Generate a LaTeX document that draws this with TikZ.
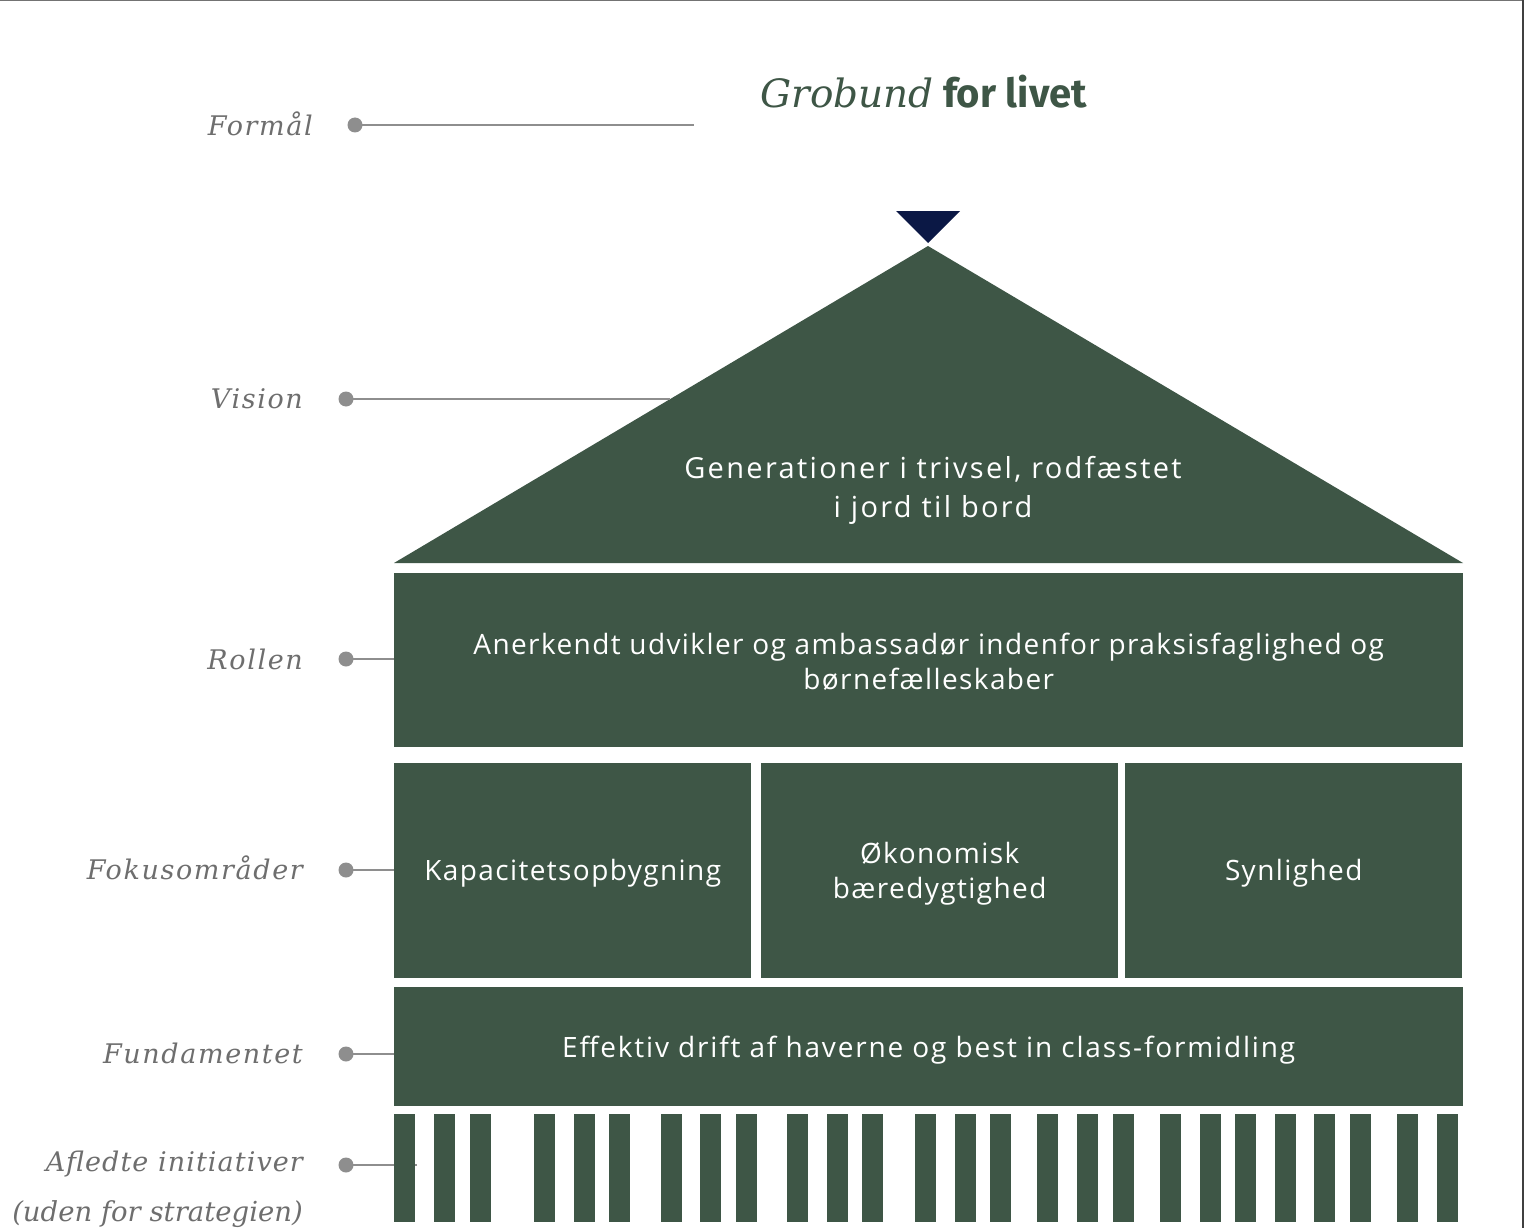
\documentclass[tikz,border=0pt]{standalone}
\usepackage{fontspec}
\setmainfont{Open Sans}[LetterSpace=5]
\newfontfamily\rooffont{Open Sans}[LetterSpace=8]
\newfontfamily\fundfont{Open Sans}[LetterSpace=6.5]
\newfontfamily\labelfont{DejaVu Serif}[LetterSpace=6]
\newfontfamily\aflfont{DejaVu Serif}[LetterSpace=4]
\newfontfamily\plainlabelfont{DejaVu Serif}
\newfontfamily\titleserif{DejaVu Serif}
\newfontfamily\titlesans{Fira Sans}
\definecolor{hgreen}{HTML}{3E5646}
\definecolor{hnavy}{HTML}{0B1845}
\definecolor{lblgray}{HTML}{6E6E6E}
\definecolor{linegray}{HTML}{8E8E8E}
\begin{document}
\begin{tikzpicture}[x=1pt,y=-1pt,
  box/.style={fill=hgreen, draw=none, inner sep=0pt, anchor=north west},
  boxtext/.style={text=white, inner sep=0pt, align=center, font=\fontsize{28}{35}\selectfont},
  lbl/.style={anchor=east, text=lblgray, inner sep=0pt, font=\labelfont\itshape\fontsize{27}{30}\selectfont},
  dot/.style={circle, fill=linegray, draw=none, minimum size=15pt, inner sep=0pt},
  conn/.style={draw=linegray, line width=1.3pt},
  bar/.style={fill=hgreen, draw=none, inner sep=0pt, anchor=north west, minimum width=20.5pt, minimum height=108pt}]
\useasboundingbox (0,0) rectangle (1524,1228);
\fill[white] (0,0) rectangle (1524,1228);
% edge artefacts of the screenshot
\fill[black!55] (0,0) rectangle (1524,1.5);
\fill[black!75] (1521.5,0) rectangle (1524,1228);

% title
\node[anchor=base west, inner sep=0pt, text=hgreen] (title) at (760,108)
  {{\titleserif\itshape\fontsize{39}{40}\selectfont Grobund}{\titlesans\bfseries\fontsize{40}{40}\selectfont\ for livet}};

% navy marker
\fill[hnavy] (896,211) -- (960,211) -- (928,243) -- cycle;

% roof
\coordinate (roofL) at (394,563);
\coordinate (roofA) at (928,246);
\coordinate (roofR) at (1463,563);
\fill[hgreen] (roofL) -- (roofA) -- (roofR) -- cycle;
\node[boxtext, font=\rooffont\fontsize{29}{39}\selectfont] (roof) at (933,490)
  {Generationer i trivsel, rodfæstet\\i jord til bord};

% boxes
\node[box, minimum width=1069pt, minimum height=174pt] (rolle) at (394,573) {};
\node[box, minimum width=357pt, minimum height=215pt] (kap) at (394,763) {};
\node[box, minimum width=357pt, minimum height=215pt] (oko) at (761,763) {};
\node[box, minimum width=337pt, minimum height=215pt] (syn) at (1125,763) {};
\node[box, minimum width=1069pt, minimum height=119pt] (fund) at (394,987) {};

\node[boxtext] (trolle) at ([yshift=-2pt]rolle.center)
  {Anerkendt udvikler og ambassadør indenfor praksisfaglighed og\\børnefælleskaber};
\node[boxtext] (tkap) at ([yshift=-3pt]kap.center) {Kapacitetsopbygning};
\node[boxtext] (toko) at ([yshift=-3pt]oko.center) {Økonomisk\\bæredygtighed};
\node[boxtext] (tsyn) at ([yshift=-3pt]syn.center) {Synlighed};
\node[boxtext, font=\fundfont\fontsize{28}{35}\selectfont] (tfund) at ([yshift=-3pt]fund.center)
  {Effektiv drift af haverne og best in class-formidling};

% labels and dots
\node[lbl] (lformal) at (313,124) {Formål};
\node[dot] (dformal) at (355,125) {};
\coordinate (eformal) at (694,125);
\draw[conn] (dformal.center) -- (eformal);

\node[lbl] (lvision) at (303,399) {Vision};
\node[dot] (dvision) at (346,399) {};
\coordinate (evision) at (670,399);
\draw[conn] (dvision.center) -- (evision);

\node[lbl] (lrolle) at (303,659) {Rollen};
\node[dot] (drolle) at (346,659) {};
\draw[conn] (drolle.center) -- (drolle.center -| rolle.west);

\node[lbl] (lfokus) at (303,868) {Fokusområder};
\node[dot] (dfokus) at (346,870) {};
\draw[conn] (dfokus.center) -- (dfokus.center -| kap.west);

\node[lbl] (lfund) at (303,1053) {Fundamentet};
\node[dot] (dfund) at (346,1054) {};
\draw[conn] (dfund.center) -- (dfund.center -| fund.west);

\node[lbl, font=\aflfont\itshape\fontsize{27}{30}\selectfont] (laf) at (303,1164) {Afledte initiativer};
\node[lbl, font=\plainlabelfont\itshape\fontsize{27.5}{30}\selectfont] (luden) at (303,1214) {(uden for strategien)};
\node[dot] (daf) at (346,1165) {};
\coordinate (eaf) at (417,1165);
\draw[conn] (daf.center) -- (eaf);

% bars
\foreach \bx [count=\i] in {394,434,470,534,574,609,661,700,736,787,827,862,915,955,990,1037,1077,1113,1160,1200,1235,1275,1314,1350,1397,1437}
  \node[bar] (bar\i) at (\bx,1114) {};
\end{tikzpicture}
\end{document}
